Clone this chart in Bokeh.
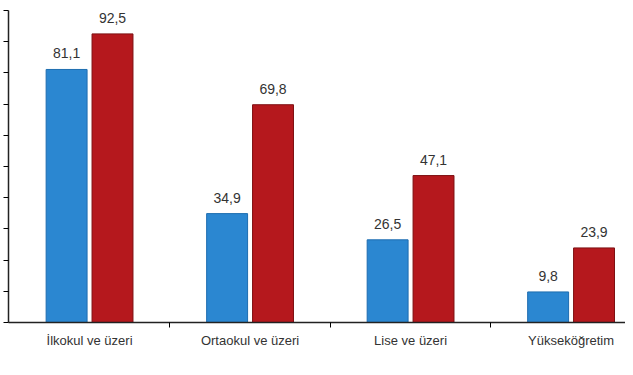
from bokeh.plotting import figure
from bokeh.models import ColumnDataSource, Range1d, FixedTicker, LabelSet
from bokeh.core.properties import value
from bokeh.embed import file_html
from bokeh.resources import INLINE

categories = ["İlkokul ve üzeri", "Ortaokul ve üzeri", "Lise ve üzeri", "Yükseköğretim"]
series_blue = [81.1, 34.9, 26.5, 9.8]
series_red = [92.5, 69.8, 47.1, 23.9]
y_ticks = list(range(0, 101, 10))

def fmt(v):
    return f"{v:.1f}".replace(".", ",")

idx = list(range(len(categories)))
off = 0.143
src_b = ColumnDataSource(dict(x=[i - off for i in idx], top=series_blue, lab=[fmt(v) for v in series_blue]))
src_r = ColumnDataSource(dict(x=[i + off for i in idx], top=series_red, lab=[fmt(v) for v in series_red]))

p = figure(width=625, height=365, output_backend="svg", toolbar_location=None,
           x_range=Range1d(-0.505, 3.339), y_range=Range1d(0, 100),
           min_border_left=8, min_border_right=0, min_border_top=10, min_border_bottom=43)
p.outline_line_color = None
p.xgrid.visible = False
p.ygrid.visible = False

p.vbar(x="x", top="top", width=0.255, source=src_b, fill_color="#2B87D1", line_color="#1E6DB0", line_width=1)
p.vbar(x="x", top="top", width=0.255, source=src_r, fill_color="#B5181D", line_color="#7E1012", line_width=1)

for s in (src_b, src_r):
    p.add_layout(LabelSet(x="x", y="top", text="lab", source=s, text_align="center", text_baseline="bottom",
                          y_offset=11, text_font=value("Liberation Sans"),
                          text_font_size=value("14px"), text_color=value("#333333")))

p.xaxis.ticker = FixedTicker(ticks=idx, minor_ticks=[0.5, 1.5, 2.5])
p.xaxis.major_label_overrides = {i: c for i, c in enumerate(categories)}
p.xaxis.major_tick_out = 0
p.xaxis.major_tick_in = 0
p.xaxis.minor_tick_out = 5
p.xaxis.minor_tick_in = 0
p.xaxis.axis_line_width = 1.5
p.xaxis.axis_line_color = "#222222"
p.xaxis.major_label_text_font = "Liberation Sans"
p.xaxis.major_label_text_font_size = "13px"
p.xaxis.major_label_text_color = "#333333"
p.xaxis.major_label_standoff = 5

p.yaxis.ticker = FixedTicker(ticks=y_ticks)
p.yaxis.major_label_overrides = {t: "" for t in y_ticks}
p.yaxis.major_tick_out = 5
p.yaxis.major_tick_in = 0
p.yaxis.minor_tick_out = 0
p.yaxis.major_label_standoff = 0
p.yaxis.axis_line_width = 1.5
p.yaxis.axis_line_color = "#222222"

open("out.html", "w").write(file_html(p, INLINE))
